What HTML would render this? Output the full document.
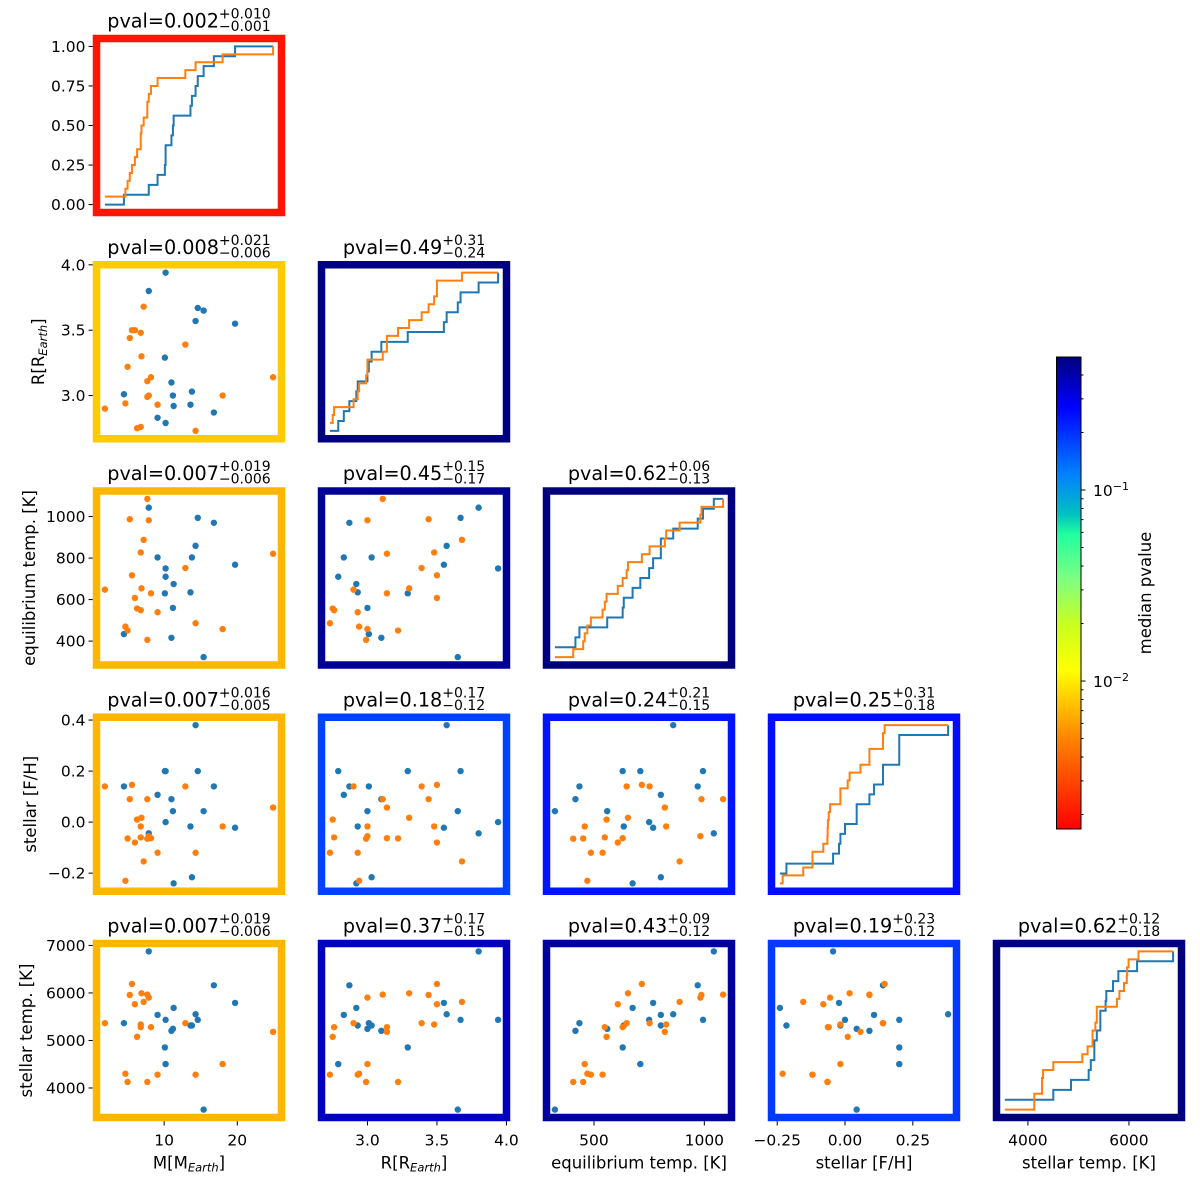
<!DOCTYPE html>
<html><head><meta charset="utf-8"><style>
html,body{margin:0;padding:0;background:#fff;}
svg{display:block;font-family:"DejaVu Sans","Liberation Sans",sans-serif;}
</style></head><body>
<svg id="fig" width="1200" height="1183" viewBox="0 0 1200 1183" xmlns="http://www.w3.org/2000/svg">
<defs>
<linearGradient id="cmapGrad" x1="0" y1="1" x2="0" y2="0">
<stop offset="0" stop-color="#ff0000"/>
<stop offset="0.187" stop-color="#ff8000"/>
<stop offset="0.336" stop-color="#ffff00"/>
<stop offset="0.435" stop-color="#c8ff20"/>
<stop offset="0.527" stop-color="#80ff80"/>
<stop offset="0.625" stop-color="#20ffa0"/>
<stop offset="0.668" stop-color="#00c0c0"/>
<stop offset="0.753" stop-color="#0080ff"/>
<stop offset="0.894" stop-color="#0000ff"/>
<stop offset="1" stop-color="#00007f"/>
</linearGradient>
</defs>
</svg>
<script>
// ---- data ----
const varNames = ["M", "R", "Teq", "FeH", "Teff"];
const blueM = [4.5,7.9,9.1,10.1,10.2,10.2,11.0,11.2,11.3,13.6,13.8,14.3,14.6,15.4,16.8,19.7];
const blueR = [3.01,3.80,2.83,3.29,3.94,2.79,3.10,3.00,2.92,2.93,3.03,3.57,3.67,3.65,2.87,3.55];
const blueTeq = [434,1043,803,630,750,710,416,560,675,635,803,859,994,323,970,768];
const blueFeH = [0.14,-0.044,0.107,0.20,0.0,0.20,0.09,0.043,-0.24,-0.017,-0.216,0.38,0.20,0.043,0.14,-0.022];
const blueTeff = [5364,6874,5538,4853,5434,4503,5203,5245,5685,5315,5315,5552,5434,3545,6161,5790];
const orangeM = [1.9,4.7,5.0,5.3,5.6,6.0,6.3,6.8,6.8,6.9,7.2,7.7,7.7,7.9,8.2,9.1,12.9,14.3,18.0,24.9];
const orangeR = [2.90,2.94,3.22,3.44,3.50,3.50,2.75,3.48,2.76,3.30,3.68,3.11,2.99,3.00,3.14,2.93,3.39,2.73,3.00,3.14];
const orangeTeq = [648,470,451,987,717,608,557,827,549,654,888,1085,406,982,630,539,752,486,458,821];
const orangeFeH = [0.14,-0.23,-0.064,0.09,0.146,-0.08,0.01,-0.017,-0.06,0.017,-0.154,0.09,-0.065,-0.055,-0.063,-0.12,0.14,-0.12,-0.017,0.057];
const orangeTeff = [5364,4300,4126,5958,6189,5762,5077,5336,5280,5993,5811,5965,4126,5902,5280,4280,5364,4280,4503,5182];
// p-values per panel [row][col]: median, plus, minus
const pvalMed = [[0.002],[0.008,0.49],[0.007,0.45,0.62],[0.007,0.18,0.24,0.25],[0.007,0.37,0.43,0.19,0.62]];
const pvalMedText = [["0.002"],["0.008","0.49"],["0.007","0.45","0.62"],["0.007","0.18","0.24","0.25"],["0.007","0.37","0.43","0.19","0.62"]];
const pvalPlus = [["0.010"],["0.021","0.31"],["0.019","0.15","0.06"],["0.016","0.17","0.21","0.31"],["0.019","0.17","0.09","0.23","0.12"]];
const pvalMinus = [["0.001"],["0.006","0.24"],["0.006","0.17","0.13"],["0.005","0.12","0.15","0.18"],["0.006","0.15","0.12","0.12","0.18"]];
// tick labels
const cdfTicks = [0, 0.25, 0.5, 0.75, 1.0];
const cdfTickLabels = ["0.00","0.25","0.50","0.75","1.00"];
const varTicks = [[10,20],[3.0,3.5,4.0],[400,600,800,1000],[-0.2,0.0,0.2,0.4],[4000,5000,6000,7000]];
const varTickLabels = [["10","20"],["3.0","3.5","4.0"],["400","600","800","1000"],["−0.2","0.0","0.2","0.4"],["4000","5000","6000","7000"]];
const xTicks = [[10,20],[3.0,3.5,4.0],[500,1000],[-0.25,0.0,0.25],[4000,6000]];
const xTickLabels = [["10","20"],["3.0","3.5","4.0"],["500","1000"],["−0.25","0.00","0.25"],["4000","6000"]];
const cbarVmin = 0.00168, cbarVmax = 0.497;

const blueData = [blueM, blueR, blueTeq, blueFeH, blueTeff];
const orangeData = [orangeM, orangeR, orangeTeq, orangeFeH, orangeTeff];

const NS = "http://www.w3.org/2000/svg";
const svg = document.getElementById("fig");
function mk(tag, attrs, parent) {
  const e = document.createElementNS(NS, tag);
  for (const k in attrs) e.setAttribute(k, attrs[k]);
  (parent || svg).appendChild(e);
  return e;
}
const BLUE = "#1f77b4", ORANGE = "#ff7f0e";
const AX_L0 = 96.5, AX_T0 = 38.5, COL_STEP = 225, ROW_STEP = 226.25, AX_W = 185, AX_H = 174;
const TICK_FS = 15.5, LABEL_FS = 16.5, TITLE_FS = 19.2, SCRIPT_FS = 14;

// colormap
const cmStops = [[0,[255,0,0]],[0.187,[255,128,0]],[0.336,[255,255,0]],[0.435,[200,255,32]],[0.527,[128,255,128]],[0.625,[32,255,160]],[0.668,[0,192,192]],[0.753,[0,128,255]],[0.894,[0,0,255]],[1,[0,0,127]]];
function cmap(p) {
  let t = (Math.log10(p) - Math.log10(cbarVmin)) / (Math.log10(cbarVmax) - Math.log10(cbarVmin));
  t = Math.max(0, Math.min(1, t));
  for (let i = 1; i < cmStops.length; i++) {
    if (t <= cmStops[i][0]) {
      const a = cmStops[i-1], b = cmStops[i];
      const f = (t - a[0]) / (b[0] - a[0]);
      const c = a[1].map((v, k) => Math.round(v + (b[1][k] - v) * f));
      return "rgb(" + c.join(",") + ")";
    }
  }
  return "rgb(0,0,127)";
}
function range(arrs) {
  let mn = Infinity, mx = -Infinity;
  arrs.forEach(a => a.forEach(v => { mn = Math.min(mn, v); mx = Math.max(mx, v); }));
  const pad = (mx - mn) * 0.05;
  return [mn - pad, mx + pad];
}
const ranges = varNames.map((_, k) => range([blueData[k], orangeData[k]]));
function xScale(k, col) { const r = ranges[k]; const l = AX_L0 + col * COL_STEP; return v => l + (v - r[0]) / (r[1] - r[0]) * AX_W; }
function yScale(k, row) { const r = ranges[k]; const t = AX_T0 + row * ROW_STEP; return v => t + AX_H - (v - r[0]) / (r[1] - r[0]) * AX_H; }
function yCdf(row) { const t = AX_T0 + row * ROW_STEP; return v => t + AX_H - (v + 0.05) / 1.1 * AX_H; }

function ecdfPath(k, data, xs, ys) {
  const all = blueData[k].concat(orangeData[k]).slice().sort((a, b) => a - b);
  const n = data.length;
  let d = "";
  all.forEach((x, i) => {
    const y = data.filter(v => v <= x).length / n;
    if (i === 0) d += "M" + xs(x).toFixed(2) + "," + ys(y).toFixed(2);
    else d += "H" + xs(x).toFixed(2) + "V" + ys(y).toFixed(2);
  });
  return d;
}

for (let i = 0; i < 5; i++) {
  for (let j = 0; j <= i; j++) {
    const L = AX_L0 + j * COL_STEP, T = AX_T0 + i * ROW_STEP;
    const g = mk("g", {});
    
    
    const xs = xScale(j, j);
    if (i === j) {
      const ys = yCdf(i);
      const pb = mk("path", {d: ecdfPath(j, blueData[j], xs, ys), fill: "none", stroke: BLUE, "stroke-width": 2}, g);
      
      
      const po = mk("path", {d: ecdfPath(j, orangeData[j], xs, ys), fill: "none", stroke: ORANGE, "stroke-width": 2}, g);
      
      
    } else {
      const ys = yScale(i, i);
      [[blueData, BLUE, 'blue'], [orangeData, ORANGE, 'orange']].forEach(([D, col, nm]) => {
        D[j].forEach((v, n) => {
          const c = mk("circle", {cx: xs(v).toFixed(2), cy: ys(D[i][n]).toFixed(2), r: 3.2, fill: col}, g);
          
          
        });
      });
    }
    const fr = mk("rect", {x: L, y: T, width: AX_W, height: AX_H, fill: "none", stroke: cmap(pvalMed[i][j]), "stroke-width": 7.5}, g);
    
    
    // title
    const tg = mk("g", {}, g);
    
    
    const main = mk("text", {y: T - 11, "font-size": TITLE_FS, fill: "#000"}, tg);
    main.textContent = "pval=" + pvalMedText[i][j];
    const sup = mk("text", {y: T - 20, "font-size": SCRIPT_FS, fill: "#000"}, tg);
    sup.textContent = "+" + pvalPlus[i][j];
    const sub = mk("text", {y: T - 7.5, "font-size": SCRIPT_FS, fill: "#000"}, tg);
    sub.textContent = "−" + pvalMinus[i][j];
    const mw = main.getComputedTextLength(), sw = Math.max(sup.getComputedTextLength(), sub.getComputedTextLength());
    const x0 = L + AX_W / 2 - (mw + sw) / 2;
    main.setAttribute("x", x0); sup.setAttribute("x", x0 + mw); sub.setAttribute("x", x0 + mw);
    // left ticks
    if (j === 0) {
      const ys = i === 0 ? yCdf(0) : yScale(i, i);
      const tv = i === 0 ? cdfTicks : varTicks[i], tl = i === 0 ? cdfTickLabels : varTickLabels[i];
      tv.forEach((v, n) => {
        const y = ys(v);
        const tk = mk("line", {x1: L - 8, x2: L - 3.75, y1: y, y2: y, stroke: "#000", "stroke-width": 1}, g);
        
        
        const t = mk("text", {x: L - 11, y: y + 5.5, "font-size": TICK_FS, "text-anchor": "end"}, g);
        
        
        t.textContent = tl[n];
      });
    }
    if (i === 4) {
      xTicks[j].forEach((v, n) => {
        const x = xs(v);
        const tk = mk("line", {x1: x, x2: x, y1: T + AX_H + 3.75, y2: T + AX_H + 8, stroke: "#000", "stroke-width": 1}, g);
        
        
        const t = mk("text", {x: x, y: T + AX_H + 28, "font-size": TICK_FS, "text-anchor": "middle"}, g);
        
        
        t.textContent = xTickLabels[j][n];
      });
    }
  }
}

// axis labels
function label(txt, x, y, rot, sub, nm) {
  const t = mk("text", {x: x, y: y, "font-size": LABEL_FS, "text-anchor": "middle", transform: rot ? "rotate(-90 " + x + " " + y + ")" : ""});
  
  
  if (sub) {
    const a = mk("tspan", {}, t); a.textContent = txt + "[" + txt;
    const b = mk("tspan", {"font-size": 11.5, "font-style": "italic", dy: 3}, t); b.textContent = "Earth";
    const c = mk("tspan", {dy: -3}, t); c.textContent = "]";
  } else t.textContent = txt;
}
const botY = AX_T0 + 4 * ROW_STEP + AX_H + 51;
label("M", AX_L0 + AX_W / 2, botY, false, true, "x-axis-title-mass");
label("R", AX_L0 + COL_STEP + AX_W / 2, botY, false, true, "x-axis-title-radius");
label("equilibrium temp. [K]", AX_L0 + 2 * COL_STEP + AX_W / 2, botY, false, false, "x-axis-title-teq");
label("stellar [F/H]", AX_L0 + 3 * COL_STEP + AX_W / 2, botY, false, false, "x-axis-title-feh");
label("stellar temp. [K]", AX_L0 + 4 * COL_STEP + AX_W / 2, botY, false, false, "x-axis-title-teff");
label("R", 44, AX_T0 + ROW_STEP + AX_H / 2, true, true, "y-axis-title-radius");
label("equilibrium temp. [K]", 35, AX_T0 + 2 * ROW_STEP + AX_H / 2, true, false, "y-axis-title-teq");
label("stellar [F/H]", 36, AX_T0 + 3 * ROW_STEP + AX_H / 2, true, false, "y-axis-title-feh");
label("stellar temp. [K]", 32, AX_T0 + 4 * ROW_STEP + AX_H / 2, true, false, "y-axis-title-teff");

// colorbar
const CB_X = 1056.5, CB_T = 357, CB_B = 829, CB_W = 24.5;
const cb = mk("g", {});


const cbr = mk("rect", {x: CB_X, y: CB_T, width: CB_W, height: CB_B - CB_T, fill: "url(#cmapGrad)", stroke: "#000", "stroke-width": 1}, cb);


function cbY(v) { return CB_B - (Math.log10(v) - Math.log10(cbarVmin)) / (Math.log10(cbarVmax) - Math.log10(cbarVmin)) * (CB_B - CB_T); }
[0.001, 0.01, 0.1].forEach(dec => {
  for (let k = 1; k <= 9; k++) {
    const v = dec * k;
    if (v < cbarVmin || v > cbarVmax) continue;
    const y = cbY(v), major = k === 1;
    const tk = mk("line", {x1: CB_X + CB_W, x2: CB_X + CB_W + (major ? 4.5 : 2.5), y1: y, y2: y, stroke: "#000", "stroke-width": 1}, cb);
    
    
    if (major) {
      const t = mk("text", {x: CB_X + CB_W + 12, y: y + 6, "font-size": TICK_FS}, cb);
      
      
      const a = mk("tspan", {}, t); a.textContent = "10";
      const b = mk("tspan", {"font-size": 11, dy: -6}, t); b.textContent = "−" + Math.round(-Math.log10(dec));
    }
  }
});
const cbl = mk("text", {x: 1151, y: (CB_T + CB_B) / 2, "font-size": LABEL_FS, "text-anchor": "middle", transform: "rotate(-90 1151 " + ((CB_T + CB_B) / 2) + ")"}, cb);


cbl.textContent = "median pvalue";
</script>
</body></html>
